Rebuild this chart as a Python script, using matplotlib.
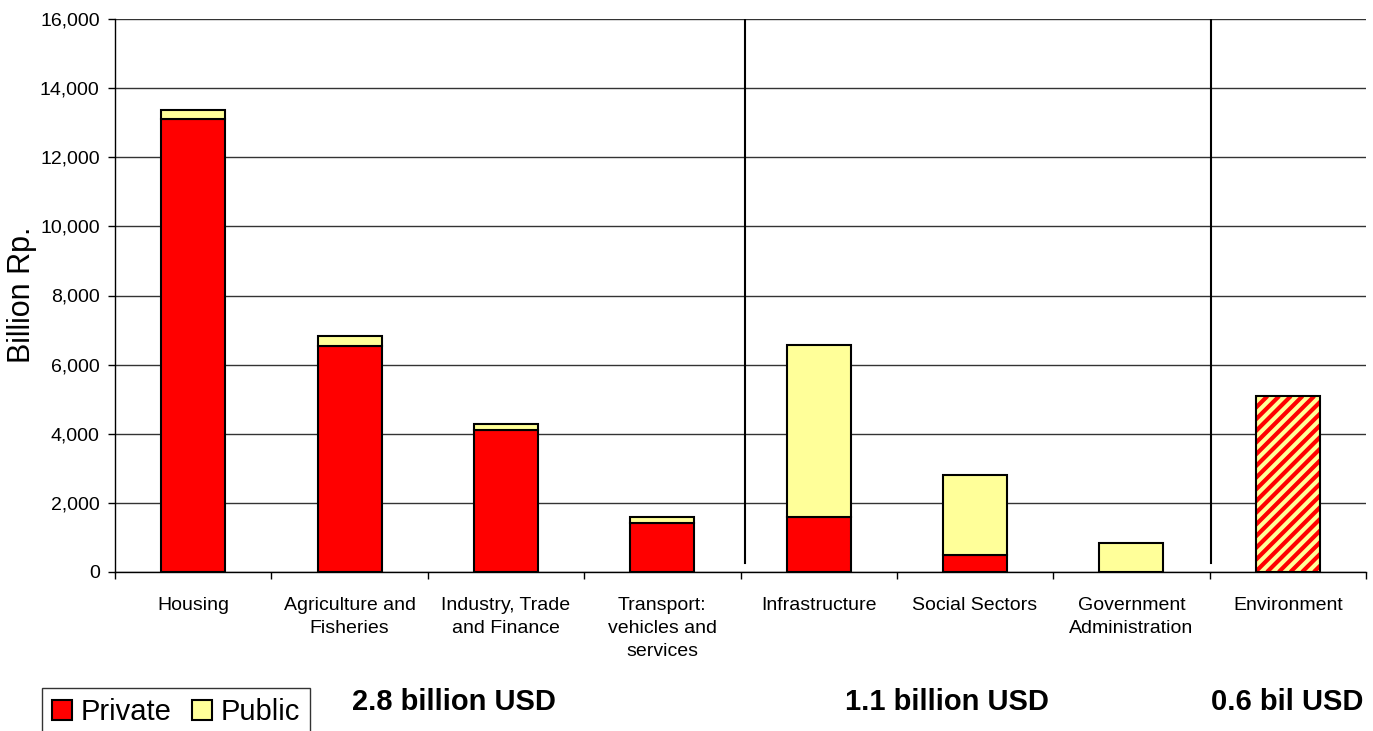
import numpy as np
import matplotlib
matplotlib.use("Agg")
import matplotlib.pyplot as plt
from matplotlib.patches import Patch
from matplotlib.collections import LineCollection
from matplotlib.transforms import IdentityTransform

plt.rcParams['font.family'] = ['Liberation Sans', 'DejaVu Sans']

# Data (billion Rp.)
sectors = ["Housing", "Agriculture and\nFisheries", "Industry, Trade\nand Finance",
           "Transport:\nvehicles and\nservices", "Infrastructure", "Social Sectors",
           "Government\nAdministration", "Environment"]
private = [13100, 6540, 4110, 1430, 1580, 500, 0, 0]
public = [270, 290, 170, 150, 4990, 2320, 830, 0]
mixed = [0, 0, 0, 0, 0, 0, 0, 5090]   # environment, shown hatched

group_labels = ["2.8 billion USD", "1.1 billion USD", "0.6 bil USD"]
yticks = [0, 2000, 4000, 6000, 8000, 10000, 12000, 14000, 16000]

RED = "#FF0000"
YELLOW = "#FFFF99"

fig = plt.figure(figsize=(13.73, 7.31), dpi=100)
ax = fig.add_axes([115 / 1373, 1 - 572 / 731, 1251 / 1373, 553 / 731])

x = np.arange(len(sectors))
w = 0.41
private = np.array(private)
public = np.array(public)
mixed = np.array(mixed)

ax.bar(x, private, w, color=RED, edgecolor="black", linewidth=1.5, zorder=3)
ax.bar(x, public, w, bottom=private, color=YELLOW, edgecolor="black", linewidth=1.5, zorder=3)

ax.set_xlim(-0.5, 7.5)
ax.set_ylim(0, 16000)

# hatched environment bar: yellow base, red diagonal stripes, black outline
m = mixed > 0
base = ax.bar(x[m], mixed[m], w, color=YELLOW, linewidth=0, zorder=3)
for rect in base:
    (px0, py0), (px1, py1) = ax.transData.transform(
        [(rect.get_x(), rect.get_y()), (rect.get_x() + rect.get_width(), rect.get_height())])
    h = py1 - py0
    period = 11.7
    segs = [[(px0 + c, py0), (px0 + c + h, py0 + h)]
            for c in np.arange(-h, px1 - px0 + period, period)]
    lc = LineCollection(segs, colors=RED, linewidths=3.0, transform=IdentityTransform(), zorder=4)
    ax.add_collection(lc, autolim=False)
    lc.set_clip_path(rect)
ax.bar(x[m], mixed[m], w, facecolor="none", edgecolor="black", linewidth=1.5, zorder=5)

# group separators
for xs in [3.53, 6.51]:
    ax.plot([xs, xs], [260, 16000], color="black", linewidth=1.5, zorder=6)

ax.set_yticks(yticks)
ax.set_yticklabels([f"{v:,}" for v in yticks])
ax.yaxis.grid(True, color="#333333", linewidth=1.0, zorder=0)

ax.set_xticks(x)
ax.set_xticklabels(sectors, linespacing=1.45)
ax.set_xticks(np.arange(-0.5, 8, 1), minor=True)
ax.tick_params(axis="x", which="major", length=0, pad=18, labelsize=14)
ax.tick_params(axis="x", which="minor", length=5, width=1)
ax.tick_params(axis="y", length=5, width=1, pad=6, labelsize=14)

for s in ["top", "right"]:
    ax.spines[s].set_visible(False)
ax.spines["left"].set_linewidth(1.0)
ax.spines["bottom"].set_linewidth(1.0)

fig.text(22 / 1373, 1 - 295 / 731, "Billion Rp.", rotation=90, ha="center", va="center", fontsize=22)

# group totals
for gx, lab in zip([454, 947, 1287], group_labels):
    fig.text(gx / 1373, 1 - 702 / 731, lab, ha="center", va="center", fontsize=21, fontweight="bold")

handles = [Patch(facecolor=RED, edgecolor="black", linewidth=1.5),
           Patch(facecolor=YELLOW, edgecolor="black", linewidth=1.5)]
leg = fig.legend(handles, ["Private", "Public"], loc="upper left",
                 bbox_to_anchor=(42 / 1373, 1 - 688 / 731), ncol=2, fontsize=21,
                 frameon=True, fancybox=False, edgecolor="black", borderaxespad=0,
                 borderpad=0.35, handlelength=0.68, handleheight=0.68,
                 handletextpad=0.3, columnspacing=0.7)
leg.get_frame().set_linewidth(1.0)

fig.savefig("out.png", dpi=100)
